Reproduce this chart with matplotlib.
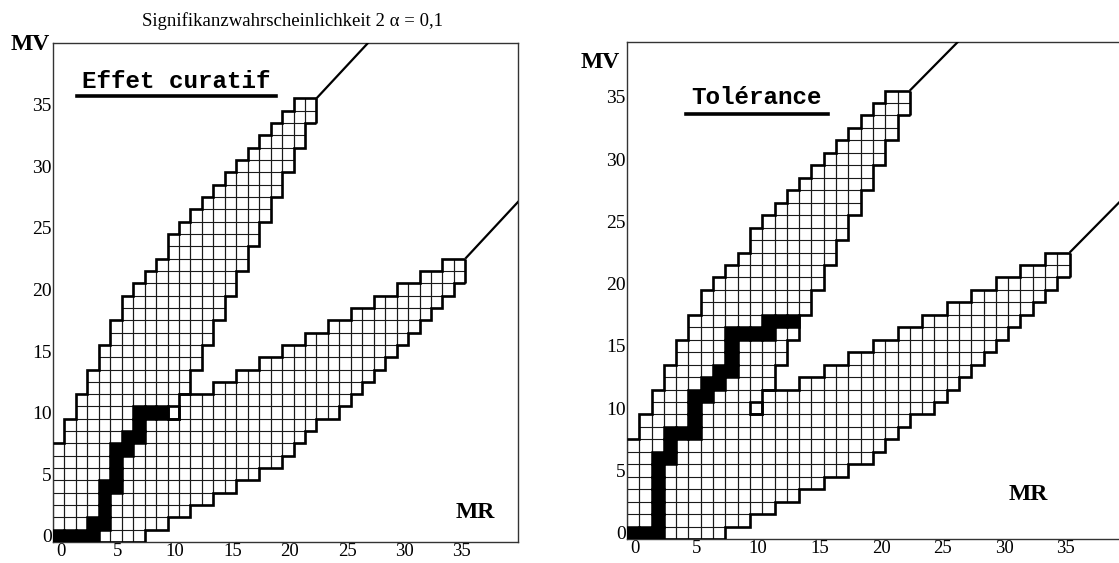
import numpy as np
import matplotlib
matplotlib.use("Agg")
import matplotlib.pyplot as plt
from matplotlib.lines import Line2D
from matplotlib.transforms import ScaledTranslation

# ---------------- data (cell rows MV for each MR) ----------------
mr_upper = list(range(0, 23))
mv_upper_top = [7, 9, 11, 13, 15, 17, 19, 20, 21, 22, 24, 25, 26, 27, 28,
                29, 30, 31, 32, 33, 34, 35, 35]
mr_upper_edge = list(range(10, 23))
mv_upper_bottom = [10, 12, 14, 16, 18, 20, 22, 24, 26, 28, 30, 32, 34]

mr_lower = list(range(0, 36))
mv_lower_bottom = [0, 0, 0, 0, 0, 0, 0, 0, 1, 1, 2, 2, 3, 3, 4, 4, 5, 5, 6, 6,
                   7, 8, 9, 10, 10, 11, 12, 13, 14, 15, 16, 17, 18, 19, 20, 21]
mr_lower_edge = list(range(11, 36))
mv_lower_top = [11, 11, 11, 12, 12, 13, 13, 14, 14, 15, 15, 16, 16, 17, 17,
                18, 18, 19, 19, 20, 20, 21, 21, 22, 22]

marked_cell_mr = [10]
marked_cell_mv = [10]

left_path_mr = [0, 1, 2, 3, 3, 4, 4, 4, 4, 5, 5, 5, 5, 6, 6, 7, 7, 7, 8, 9]
left_path_mv = [0, 0, 0, 0, 1, 1, 2, 3, 4, 4, 5, 6, 7, 7, 8, 8, 9, 10, 10, 10]
right_path_mr = [0, 1, 2, 2, 2, 2, 2, 2, 2, 3, 3, 3, 4, 5, 5, 5, 5, 6, 6, 7, 7,
                 8, 8, 8, 8, 9, 10, 11, 11, 12, 13]
right_path_mv = [0, 0, 0, 1, 2, 3, 4, 5, 6, 6, 7, 8, 8, 8, 9, 10, 11, 11, 12,
                 12, 13, 13, 14, 15, 16, 16, 16, 16, 17, 17, 17]

tick_values = [0, 5, 10, 15, 20, 25, 30, 35]
title_text = "Signifikanzwahrscheinlichkeit 2 \u03b1 = 0,1"
panel_titles = ["Effet curatif", "Tol\u00e9rance"]

# ---------------- figure ----------------
W, H = 1119, 563
fig = plt.figure(figsize=(W / 100, H / 100), dpi=100)
fig.patch.set_facecolor("white")

serif = ["Liberation Serif", "DejaVu Serif"]
mono = ["Liberation Mono", "DejaVu Sans Mono"]


def column_segments():
    segs = []
    for c in mr_lower:
        lo = mv_lower_bottom[c]
        ltop = mv_lower_top[mr_lower_edge.index(c)] if c in mr_lower_edge else None
        if c in mr_upper:
            top = mv_upper_top[c]
            ubot = mv_upper_bottom[mr_upper_edge.index(c)] if c in mr_upper_edge else None
            if ltop is not None and ubot is not None and ubot > ltop + 1:
                segs.append((c, lo, ltop))
                segs.append((c, ubot, top))
            else:
                segs.append((c, lo, top))
        else:
            segs.append((c, lo, ltop))
    return segs


def draw_panel(ax, path_mr, path_mv, xlim, ylim):
    ax.set_xlim(*xlim)
    ax.set_ylim(*ylim)
    # thin grid of cells
    vx, vy0, vy1, hy, hx0, hx1 = [], [], [], [], [], []
    for c, a, b in column_segments():
        vx += [c - 0.5, c + 0.5]
        vy0 += [a - 0.5, a - 0.5]
        vy1 += [b + 0.5, b + 0.5]
        for r in range(a, b + 2):
            hy.append(r - 0.5)
            hx0.append(c - 0.5)
            hx1.append(c + 0.5)
    ax.vlines(vx, vy0, vy1, color="#1a1a1a", lw=0.8, zorder=1)
    ax.hlines(hy, hx0, hx1, color="#1a1a1a", lw=0.8, zorder=1)

    lw = 1.9
    kw = dict(color="black", lw=lw, baseline=None, zorder=3)
    ax.stairs(np.array(mv_upper_top) + 0.5,
              edges=np.arange(mr_upper[0] - 0.5, mr_upper[-1] + 1.0), **kw)
    ax.stairs(np.array(mv_upper_bottom) - 0.5,
              edges=np.arange(mr_upper_edge[0] - 0.5, mr_upper_edge[-1] + 1.0), **kw)
    ax.stairs(np.array(mv_lower_top) + 0.5,
              edges=np.arange(mr_lower_edge[0] - 0.5, mr_lower_edge[-1] + 1.0), **kw)
    ax.stairs(np.array(mv_lower_bottom) - 0.5,
              edges=np.arange(mr_lower[0] - 0.5, mr_lower[-1] + 1.0), **kw)
    ax.vlines([mr_upper[-1] + 0.5, mr_lower[-1] + 0.5],
              [mv_upper_bottom[-1] - 0.5, mv_lower_bottom[-1] - 0.5],
              [mv_upper_top[-1] + 0.5, mv_lower_top[-1] + 0.5],
              color="black", lw=lw, zorder=3)
    ax.bar(marked_cell_mr, 1.0, bottom=np.array(marked_cell_mv) - 0.5, width=1.0,
           fill=False, edgecolor="black", lw=lw, zorder=3)
    # slope-1 continuation lines from the band corners
    for x0, y0 in [(mr_upper[-1] + 0.5, mv_upper_top[-1] + 0.5),
                   (mr_lower[-1] + 0.5, mv_lower_top[-1] + 0.5)]:
        ax.plot([x0, x0 + 12], [y0, y0 + 12], color="black", lw=1.6, zorder=3,
                solid_capstyle="butt")

    # observed path
    ax.bar(path_mr, 1.0, bottom=np.array(path_mv) - 0.5, width=1.0,
           color="black", edgecolor="black", lw=1.8, zorder=4)

    ax.set_xticks(tick_values)
    ax.set_yticks(tick_values)
    ax.set_xticklabels([str(v) for v in tick_values], family=serif, fontsize=13.5)
    ax.set_yticklabels([str(v) for v in tick_values], family=serif, fontsize=14)
    ax.tick_params(axis="x", length=0, pad=0.5)
    ax.tick_params(axis="y", length=0, pad=1)
    off = ScaledTranslation(2 / 100, 0, fig.dpi_scale_trans)
    for lab in ax.get_xticklabels():
        lab.set_transform(lab.get_transform() + off)
    for s in ax.spines.values():
        s.set_linewidth(1.0)
        s.set_color("#333333")
    ax.set_facecolor("white")


axL = fig.add_axes([53 / W, (H - 542) / H, 465 / W, 499 / H])
draw_panel(axL, left_path_mr, left_path_mv, (-0.5, 40.1), (-0.5, 40.0))

axR = fig.add_axes([627 / W, (H - 539) / H, 498 / W, 497 / H])
draw_panel(axR, right_path_mr, right_path_mv, (-0.5, 40.0), (-0.5, 39.4))
axR.spines["right"].set_visible(False)

# texts
fig.text(292 / W, 1 - 21 / H, title_text, family=serif, fontsize=13.5,
         ha="center", va="center")
for (px, py), t in [((30, 45), "MV"), ((600, 63), "MV"),
                    ((475, 512), "MR"), ((1028, 494), "MR")]:
    fig.text(px / W, 1 - py / H, t, family=serif, fontsize=17, weight="bold",
             ha="center", va="center")

fig.text(176 / W, 1 - 81 / H, panel_titles[0], family=mono, fontsize=17.5,
         weight="bold", ha="center", va="center")
fig.add_artist(Line2D([77 / W, 276 / W], [1 - 96 / H, 1 - 96 / H], color="black", lw=2.6))
fig.text(757 / W, 1 - 97 / H, panel_titles[1], family=mono, fontsize=17.5,
         weight="bold", ha="center", va="center")
fig.add_artist(Line2D([686 / W, 828 / W], [1 - 114 / H, 1 - 114 / H], color="black", lw=2.6))

fig.savefig("out.png", dpi=100, facecolor="white")
